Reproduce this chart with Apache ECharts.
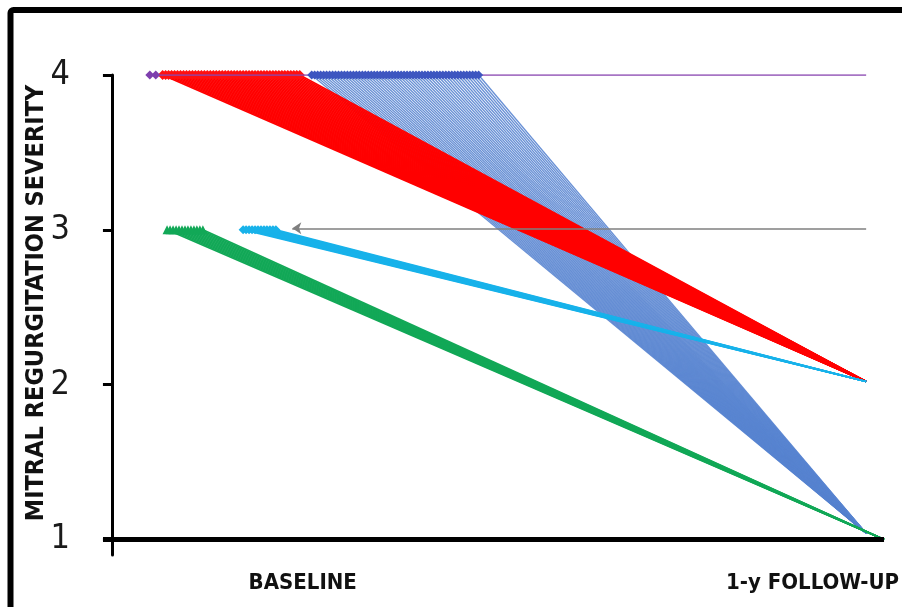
<!DOCTYPE html>
<html><head><meta charset="utf-8">
<script src="https://cdn.jsdelivr.net/npm/echarts@6/dist/echarts.min.js"></script>
<style>html,body{margin:0;padding:0;background:#fff}#c{width:902px;height:607px}</style>
</head><body><div id="c"></div>
<script>
// ---- data ----
const yTicks = [1, 2, 3, 4];
const yTitle = 'MITRAL REGURGITATION SEVERITY';
const xLabels = ['BASELINE', '1-y FOLLOW-UP'];
const xLabelAt = [64, 235];
const followUpX = 253;
const greenFollowUpX = 259;

// purple: grade 4 -> 4
const purpleX = [12.7, 14.7];
const purpleGrades = [4, 4];
// red: grade 4 -> 2
const redX = [17,18,19,20,21,22,23,24,25,26,27,28,29,30,31,32,33,34,35,36,37,38,39,40,41,42,43,44,45,46,47,48,49,50,51,52,53,54,55,56,57,58,59,60,61,62,63];
const redGrades = [4, 2.02];
// blue: grade 4 -> 1
const blueX = [67,68,69,70,71,72,73,74,75,76,77,78,79,80,81,82,83,84,85,86,87,88,89,90,91,92,93,94,95,96,97,98,99,100,101,102,103,104,105,106,107,108,109,110,111,112,113,114,115,116,117,118,119,120,121,122,123];
const blueGrades = [4, 1.04];
// green: grade 3 -> 1
const greenX = [18.5,19.5,20.5,21.5,22.5,23.5,24.5,25.5,26.5,27.5,28.5,29.5,30.5];
const greenGrades = [3, 1];
// cyan: grade 3 -> 2
const cyanX = [44,45,46,47,48,49,50,51,52,53,54,55];
const cyanGrades = [3, 2.02];
// gray: grade 3 -> 3
const grayX = [60.5];
const grayGrades = [3.01, 3.01];

const condensed = 'DejaVu Sans Condensed, Liberation Sans Narrow, sans-serif';

function fan(xs, grades, endX, color, width, opacity, z, symbol) {
  return {
    type: 'lines', coordinateSystem: 'cartesian2d', z: z, silent: true,
    symbol: symbol || 'none', symbolSize: 9,
    lineStyle: { color: color, width: width, opacity: opacity },
    data: xs.map(x => ({ coords: [[x, grades[0]], [endX, grades[1]]] }))
  };
}
function marks(xs, y, symbol, size, color, z) {
  return {
    type: 'scatter', z: z, silent: true, symbol: symbol, symbolSize: size,
    itemStyle: { color: color, opacity: 1 },
    data: xs.map(x => [x, y])
  };
}

const chart = echarts.init(document.getElementById('c'), null, { renderer: 'canvas' });
chart.setOption({
  animation: false,
  backgroundColor: '#fff',
  graphic: [{
    type: 'rect', z: 100, silent: true,
    shape: { x: 10.5, y: 10, width: 1000, height: 1000, r: 3 },
    style: { fill: 'none', stroke: '#000', lineWidth: 6 }
  }, {
    type: 'text', z: 100, silent: true, x: 36, y: 303, rotation: Math.PI / 2,
    style: { text: yTitle, fontSize: 25, fontWeight: 'bold', fill: '#111', fontFamily: condensed,
      align: 'center', verticalAlign: 'middle' }
  }],
  grid: { left: 103, right: 13, top: 75, bottom: 52 },
  xAxis: {
    type: 'value', min: -3, max: 259,
    axisLine: { show: false }, axisTick: { show: false }, splitLine: { show: false },
    axisLabel: {
      customValues: xLabelAt,
      formatter: v => xLabels[xLabelAt.indexOf(v)],
      margin: 17, fontSize: 22, fontWeight: 'bold', color: '#111', fontFamily: condensed
    }
  },
  yAxis: {
    type: 'value', min: 0.9, max: 4,
    axisLine: { show: true, onZero: true, lineStyle: { color: '#000', width: 3 } },
    axisTick: { show: true, customValues: yTicks, length: 9, lineStyle: { color: '#000', width: 3 } },
    axisLabel: { customValues: yTicks, margin: 33, fontSize: 34, color: '#1a1a1a', fontFamily: condensed },
    splitLine: { show: false }
  },
  series: [
    Object.assign(fan(blueX, blueGrades, followUpX, '#5884d0', 1.3, 0.9, 2), {
      markLine: {
        silent: true, symbol: 'none', label: { show: false }, z: 20,
        lineStyle: { color: '#000', width: 5, type: 'solid' },
        data: [[{ coord: [-3, 1] }, { coord: [259, 1] }]]
      }
    }),
    fan(redX, redGrades, followUpX, '#ff0000', 1.6, 1, 3),
    fan(greenX, greenGrades, greenFollowUpX, '#12a857', 1.6, 1, 4),
    fan(cyanX, cyanGrades, followUpX, '#18b2ea', 1.5, 1, 5),
    fan(grayX, grayGrades, followUpX, '#7f7f7f', 1.6, 1, 6, ['arrow', 'none']),
    marks(redX, redGrades[0], 'diamond', 10, '#ff1010', 7),
    fan(purpleX.slice(0, 1), purpleGrades, followUpX, '#8a47b0', 1.6, 1, 8),
    marks(purpleX, purpleGrades[0], 'diamond', 9, '#7e3fae', 9),
    marks(blueX, blueGrades[0], 'diamond', 9, '#3d56c0', 9),
    marks(greenX, greenGrades[0], 'triangle', 9, '#12a857', 9),
    marks(cyanX, cyanGrades[0], 'diamond', 9, '#18b2ea', 9)
  ]
});
</script></body></html>
